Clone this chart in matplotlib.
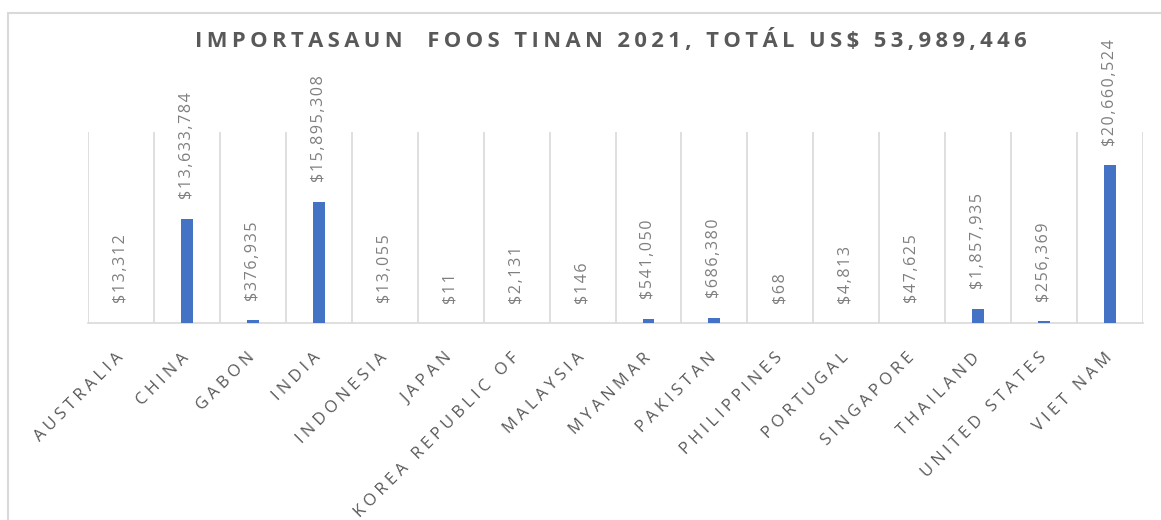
import matplotlib.pyplot as plt
from matplotlib.patches import Rectangle
from matplotlib.transforms import ScaledTranslation
import numpy as np

# dados do gráfico
paises = ['AUSTRALIA', 'CHINA', 'GABON', 'INDIA', 'INDONESIA', 'JAPAN',
          'KOREA REPUBLIC OF', 'MALAYSIA', 'MYANMAR', 'PAKISTAN', 'PHILIPPINES',
          'PORTUGAL', 'SINGAPORE', 'THAILAND', 'UNITED STATES', 'VIET NAM']
valores = [13312, 13633784, 376935, 15895308, 13055, 11,
           2131, 146, 541050, 686380, 68,
           4813, 47625, 1857935, 256369, 20660524]
titulo = 'IMPORTASAUN  FOOS TINAN 2021, TOTÁL US$ 53,989,446'

plt.rcParams['font.family'] = ['Open Sans', 'DejaVu Sans']


def espacar(texto, esp):
    # imita o espaçamento entre letras do Excel
    return esp.join(texto)


fig = plt.figure(figsize=(11.61, 5.2), dpi=100)
# moldura cinza do gráfico (sai pela direita e por baixo)
fig.patches.append(Rectangle((8 / 1161, -0.1), 1.2, 1 - 13 / 520 + 0.1,
                             transform=fig.transFigure, fill=False,
                             edgecolor='#d9d9d9', linewidth=1.5))

ax = fig.add_axes([88 / 1161, 1 - 323 / 520, (1143 - 88) / 1161, (323 - 132) / 520])
x = np.arange(len(paises))
ax.bar(x, valores, width=0.18, color='#4472C4', zorder=3)

ax.set_xlim(-0.5, len(paises) - 0.5)
ax.set_ylim(0, 25000000)

# linhas verticais entre categorias
ax.set_xticks(np.arange(-0.5, len(paises)), minor=True)
ax.grid(which='minor', axis='x', color='#d9d9d9', linewidth=1.2, zorder=0)
ax.tick_params(which='both', length=0)

ax.set_xticks(x)
ax.set_xticklabels([espacar(p, '\u2005') for p in paises], rotation=45, ha='right', va='top',
                   rotation_mode='anchor', fontsize=12, color='#595959')
for lbl in ax.get_xticklabels():
    lbl.set_transform(lbl.get_transform() + ScaledTranslation(-6 / 100, -22 / 100, fig.dpi_scale_trans))
ax.set_yticks([])

for s in ['top', 'right', 'left']:
    ax.spines[s].set_visible(False)
ax.spines['bottom'].set_color('#d9d9d9')
ax.spines['bottom'].set_linewidth(1.2)

# rótulos de valor
for xi, v in zip(x, valores):
    ax.annotate(espacar(f'${v:,}', '\u200a'), (xi, v), xytext=(0, 14), textcoords='offset points',
                rotation=90, ha='center', va='bottom', fontsize=11.5, color='#7f7f7f')

fig.text(611 / 1161, 1 - 40 / 520, espacar(titulo, '\u2009'), ha='center', va='center',
         fontsize=15.8, fontweight='bold', color='#595959')

fig.savefig('out.png', dpi=100)
